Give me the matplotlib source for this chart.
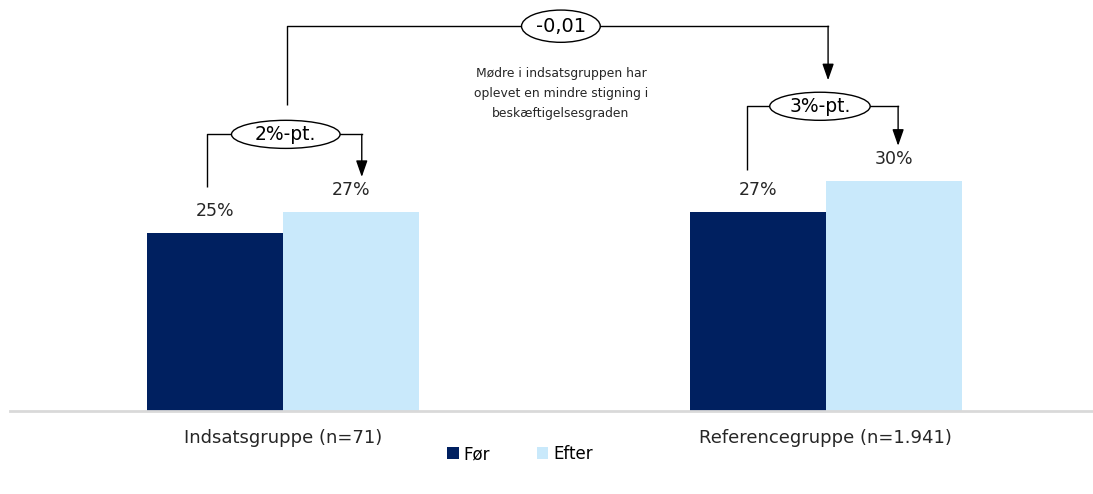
import matplotlib
matplotlib.use("Agg")
import matplotlib.pyplot as plt
from matplotlib.patches import Ellipse, Patch
import numpy as np

categories = ["Indsatsgruppe (n=71)", "Referencegruppe (n=1.941)"]
series_names = ["Før", "Efter"]
foer = [25, 27]
efter = [27, 30]
value_labels_foer = ["25%", "27%"]
value_labels_efter = ["27%", "30%"]
diff_labels = ["2%-pt.", "3%-pt."]
diff_between = "-0,01"
note = "Mødre i indsatsgruppen har\noplevet en mindre stigning i\nbeskæftigelsesgraden"

c_foer = "#002060"
c_efter = "#C9E9FB"

plt.rcParams['font.family'] = ['DejaVu Sans']
fig = plt.figure(figsize=(10.93, 4.94), dpi=100)
ax = fig.add_axes([10/1093, 83/494, 1083/1093, 411/494])

x = np.arange(len(categories))
w = 0.25
ymin = 7.9
ax.bar(x - w/2, foer, w, color=c_foer, bottom=0)
ax.bar(x + w/2, efter, w, color=c_efter, bottom=0)
ax.set_xlim(-0.503, 1.492)
ax.set_ylim(ymin, ymin + 411/10.4)

for s in ["top", "right", "left"]:
    ax.spines[s].set_visible(False)
ax.spines["bottom"].set_color("#D9D9D9")
ax.spines["bottom"].set_linewidth(2)
ax.set_yticks([])
ax.set_xticks(x)
ax.set_xticklabels(categories, fontsize=13, color="#262626")
ax.tick_params(axis="x", length=0, pad=13)

lab_fs = 12.5
for i in range(len(categories)):
    ax.text(x[i] - w/2, foer[i] + 1.3, value_labels_foer[i], ha="center", va="bottom", fontsize=lab_fs, color="#262626")
    ax.text(x[i] + w/2, efter[i] + 1.3, value_labels_efter[i], ha="center", va="bottom", fontsize=lab_fs, color="#262626")

lw = 1.0
def bracket(x0, y0, x1, y1tip, ytop, label, ew, eh, fs, xc=None):
    if xc is None:
        xc = (x0 + x1) / 2
    ax.plot([x0, x0, xc - ew/2], [y0, ytop, ytop], color="black", lw=lw, solid_capstyle="butt")
    ax.plot([xc + ew/2, x1], [ytop, ytop], color="black", lw=lw)
    ax.annotate("", xy=(x1, y1tip), xytext=(x1, ytop),
                arrowprops=dict(arrowstyle="-|>,head_width=0.35,head_length=1.0", color="black", lw=lw, shrinkA=0, shrinkB=0))
    ax.add_patch(Ellipse((xc, ytop), ew, eh, facecolor="white", edgecolor="black", lw=lw, zorder=3))
    ax.text(xc, ytop, label, ha="center", va="center", fontsize=fs, zorder=4, color="black")

# group brackets
bracket(x[0] - w/2 - 0.015, foer[0] + 4.4, x[0] + w/2 + 0.02, efter[0] + 3.4, foer[0] + 9.5,
        diff_labels[0], 0.2, 2.7, 13.5, xc=x[0] + 0.005)
bracket(x[1] - w/2 - 0.02, foer[1] + 4.1, x[1] + w/2 + 0.008, efter[1] + 3.4, foer[1] + 10.2,
        diff_labels[1], 0.185, 2.7, 13.5, xc=x[1] - 0.011)
# between groups
bracket(x[0] + 0.007, foer[0] + 9.5 + 2.8, x[1] + 0.004, 39.7, 44.9, diff_between, 0.145, 3.1, 14, xc=0.5118)

ax.text(0.5118, 41.0, note, ha="center", va="top", fontsize=8.9, color="#262626", linespacing=1.72)

handles = [Patch(facecolor=c_foer, label=series_names[0]), Patch(facecolor=c_efter, label=series_names[1])]
fig.legend(handles=handles, loc="center", bbox_to_anchor=(520/1093, 1 - 454/494), ncol=2, frameon=False,
           fontsize=12, handlelength=0.7, handleheight=0.7, handletextpad=0.3, columnspacing=2.8)

fig.savefig("out.png", dpi=100)
